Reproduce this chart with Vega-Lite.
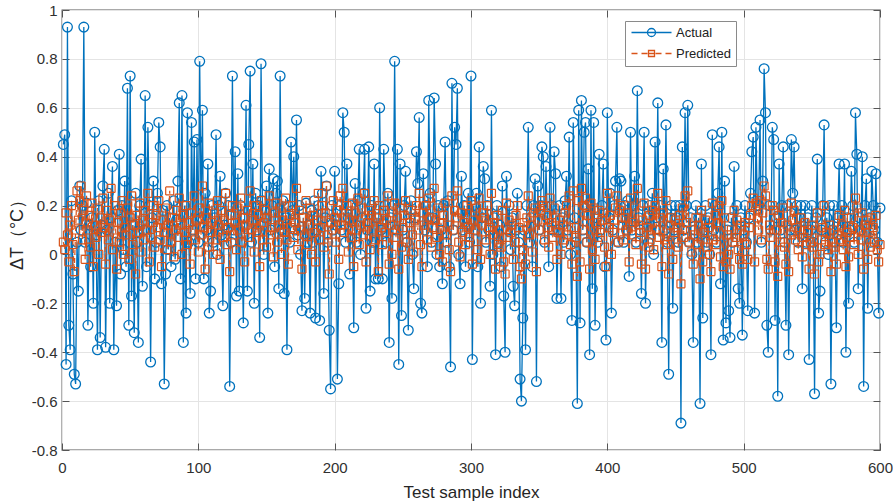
{
"$schema": "https://vega.github.io/schema/vega-lite/v6.json",
"width": 818, "height": 440,
"autosize": {"type": "none"},
"padding": {"left": 62, "top": 10, "right": 13, "bottom": 54},
"background": "white",
"config": {"view": {"stroke": "#555555", "strokeWidth": 1.3}, "font": "Liberation Sans, Arial, sans-serif"},
"data": {"values": [
{"i":1,"a":0.45,"p":0.05},{"i":2,"a":0.49,"p":0.02},{"i":3,"a":-0.45,"p":0.17},{"i":4,"a":0.93,"p":0.08},{"i":5,"a":-0.29,"p":-0.03},{"i":6,"a":-0.39,"p":0.12},{"i":7,"a":0.22,"p":0.2},{"i":8,"a":-0.08,"p":0.04},{"i":9,"a":-0.49,"p":-0.07},{"i":10,"a":-0.53,"p":0.1},
{"i":11,"a":0.05,"p":0.26},{"i":12,"a":-0.15,"p":0.14},{"i":13,"a":0.28,"p":0.22},{"i":14,"a":0.1,"p":0.28},{"i":15,"a":0.2,"p":0.06},{"i":16,"a":0.93,"p":0.18},{"i":17,"a":0.05,"p":-0.02},{"i":18,"a":0.21,"p":0.24},{"i":19,"a":-0.29,"p":0.1},{"i":20,"a":0.12,"p":0.16},
{"i":21,"a":-0.05,"p":0.03},{"i":22,"a":0.15,"p":0.21},{"i":23,"a":-0.2,"p":-0.05},{"i":24,"a":0.5,"p":0.12},{"i":25,"a":0.08,"p":0.07},{"i":26,"a":-0.39,"p":0.19},{"i":27,"a":0.22,"p":0.0},{"i":28,"a":-0.34,"p":0.15},{"i":29,"a":0.12,"p":0.09},{"i":30,"a":0.28,"p":0.23},
{"i":31,"a":0.43,"p":0.11},{"i":32,"a":-0.38,"p":-0.04},{"i":33,"a":0.1,"p":0.18},{"i":34,"a":0.25,"p":0.06},{"i":35,"a":-0.2,"p":0.14},{"i":36,"a":0.15,"p":0.27},{"i":37,"a":0.36,"p":0.02},{"i":38,"a":-0.39,"p":0.1},{"i":39,"a":0.05,"p":0.2},{"i":40,"a":-0.21,"p":-0.06},
{"i":41,"a":0.18,"p":0.13},{"i":42,"a":0.41,"p":0.05},{"i":43,"a":-0.08,"p":0.17},{"i":44,"a":0.2,"p":0.22},{"i":45,"a":0.02,"p":0.0},{"i":46,"a":0.3,"p":0.11},{"i":47,"a":-0.05,"p":0.08},{"i":48,"a":0.68,"p":0.19},{"i":49,"a":-0.29,"p":-0.02},{"i":50,"a":0.73,"p":0.15},
{"i":51,"a":-0.17,"p":0.24},{"i":52,"a":0.12,"p":0.04},{"i":53,"a":-0.32,"p":0.12},{"i":54,"a":0.25,"p":-0.08},{"i":55,"a":0.05,"p":0.16},{"i":56,"a":-0.36,"p":0.09},{"i":57,"a":0.2,"p":0.21},{"i":58,"a":0.39,"p":0.01},{"i":59,"a":-0.13,"p":0.14},{"i":60,"a":0.1,"p":0.06},
{"i":61,"a":0.65,"p":0.18},{"i":62,"a":-0.05,"p":0.1},{"i":63,"a":0.52,"p":0.25},{"i":64,"a":0.2,"p":-0.03},{"i":65,"a":-0.44,"p":0.07},{"i":66,"a":0.15,"p":0.13},{"i":67,"a":0.3,"p":0.2},{"i":68,"a":-0.1,"p":0.03},{"i":69,"a":0.05,"p":0.16},{"i":70,"a":0.25,"p":0.11},
{"i":71,"a":0.54,"p":0.22},{"i":72,"a":0.44,"p":0.06},{"i":73,"a":-0.12,"p":-0.05},{"i":74,"a":0.18,"p":0.14},{"i":75,"a":-0.53,"p":0.09},{"i":76,"a":-0.08,"p":0.19},{"i":77,"a":0.2,"p":0.02},{"i":78,"a":0.02,"p":0.12},{"i":79,"a":0.15,"p":0.26},{"i":80,"a":-0.05,"p":0.05},
{"i":81,"a":0.1,"p":0.15},{"i":82,"a":0.22,"p":-0.01},{"i":83,"a":-0.02,"p":0.1},{"i":84,"a":0.14,"p":0.18},{"i":85,"a":0.3,"p":0.07},{"i":86,"a":0.62,"p":0.23},{"i":87,"a":-0.1,"p":0.12},{"i":88,"a":0.65,"p":0.0},{"i":89,"a":-0.36,"p":0.16},{"i":90,"a":0.2,"p":0.09},
{"i":91,"a":-0.24,"p":0.2},{"i":92,"a":0.58,"p":0.04},{"i":93,"a":0.05,"p":0.13},{"i":94,"a":-0.16,"p":-0.04},{"i":95,"a":0.54,"p":0.17},{"i":96,"a":0.1,"p":0.1},{"i":97,"a":0.46,"p":0.24},{"i":98,"a":-0.1,"p":0.06},{"i":99,"a":0.47,"p":0.14},{"i":100,"a":0.05,"p":0.01},
{"i":101,"a":0.79,"p":0.19},{"i":102,"a":0.15,"p":0.08},{"i":103,"a":0.59,"p":0.28},{"i":104,"a":-0.1,"p":0.11},{"i":105,"a":0.25,"p":-0.06},{"i":106,"a":0.1,"p":0.15},{"i":107,"a":0.37,"p":0.03},{"i":108,"a":-0.24,"p":0.21},{"i":109,"a":-0.15,"p":0.09},{"i":110,"a":0.2,"p":0.13},
{"i":111,"a":0.05,"p":0.0},{"i":112,"a":0.15,"p":0.17},{"i":113,"a":0.49,"p":0.06},{"i":114,"a":0.0,"p":0.22},{"i":115,"a":0.2,"p":0.12},{"i":116,"a":0.32,"p":-0.02},{"i":117,"a":0.08,"p":0.18},{"i":118,"a":-0.21,"p":0.07},{"i":119,"a":0.12,"p":0.14},{"i":120,"a":0.25,"p":0.25},
{"i":121,"a":0.1,"p":0.04},{"i":122,"a":0.2,"p":0.11},{"i":123,"a":-0.54,"p":-0.07},{"i":124,"a":0.05,"p":0.16},{"i":125,"a":0.73,"p":0.2},{"i":126,"a":0.1,"p":0.08},{"i":127,"a":0.42,"p":0.13},{"i":128,"a":-0.17,"p":0.02},{"i":129,"a":0.33,"p":0.19},{"i":130,"a":-0.15,"p":0.1},
{"i":131,"a":0.2,"p":0.23},{"i":132,"a":0.05,"p":0.05},{"i":133,"a":-0.28,"p":0.15},{"i":134,"a":0.15,"p":-0.03},{"i":135,"a":0.61,"p":0.12},{"i":136,"a":-0.15,"p":0.18},{"i":137,"a":0.45,"p":0.07},{"i":138,"a":0.75,"p":0.26},{"i":139,"a":0.05,"p":0.1},{"i":140,"a":0.37,"p":0.14},
{"i":141,"a":-0.2,"p":0.01},{"i":142,"a":0.25,"p":0.2},{"i":143,"a":0.1,"p":0.09},{"i":144,"a":0.2,"p":0.16},{"i":145,"a":-0.34,"p":-0.05},{"i":146,"a":0.78,"p":0.22},{"i":147,"a":0.22,"p":0.06},{"i":148,"a":0.0,"p":0.13},{"i":149,"a":0.15,"p":0.18},{"i":150,"a":0.28,"p":0.03},
{"i":151,"a":-0.24,"p":0.15},{"i":152,"a":0.35,"p":0.24},{"i":153,"a":0.1,"p":0.08},{"i":154,"a":0.2,"p":0.11},{"i":155,"a":0.31,"p":-0.01},{"i":156,"a":-0.05,"p":0.17},{"i":157,"a":0.25,"p":0.21},{"i":158,"a":0.3,"p":0.05},{"i":159,"a":-0.14,"p":0.12},{"i":160,"a":0.73,"p":0.19},
{"i":161,"a":0.1,"p":0.0},{"i":162,"a":0.22,"p":0.14},{"i":163,"a":-0.16,"p":0.09},{"i":164,"a":0.15,"p":0.23},{"i":165,"a":-0.39,"p":0.06},{"i":166,"a":0.2,"p":-0.04},{"i":167,"a":0.05,"p":0.16},{"i":168,"a":0.46,"p":0.11},{"i":169,"a":0.18,"p":0.2},{"i":170,"a":0.4,"p":0.07},
{"i":171,"a":0.1,"p":0.13},{"i":172,"a":0.55,"p":0.27},{"i":173,"a":0.08,"p":0.02},{"i":174,"a":0.2,"p":0.18},{"i":175,"a":0.0,"p":0.1},{"i":176,"a":-0.23,"p":-0.06},{"i":177,"a":0.15,"p":0.15},{"i":178,"a":-0.18,"p":0.08},{"i":179,"a":0.21,"p":0.22},{"i":180,"a":0.05,"p":0.04},
{"i":181,"a":0.12,"p":0.12},{"i":182,"a":-0.24,"p":0.19},{"i":183,"a":0.18,"p":0.0},{"i":184,"a":0.05,"p":0.16},{"i":185,"a":0.22,"p":0.09},{"i":186,"a":-0.26,"p":-0.03},{"i":187,"a":0.1,"p":0.14},{"i":188,"a":0.2,"p":0.25},{"i":189,"a":-0.27,"p":0.06},{"i":190,"a":0.34,"p":0.11},
{"i":191,"a":0.25,"p":0.2},{"i":192,"a":-0.16,"p":0.03},{"i":193,"a":0.15,"p":0.17},{"i":194,"a":0.28,"p":0.28},{"i":195,"a":0.05,"p":0.08},{"i":196,"a":-0.31,"p":-0.08},{"i":197,"a":-0.55,"p":0.13},{"i":198,"a":0.2,"p":0.1},{"i":199,"a":0.1,"p":0.22},{"i":200,"a":0.34,"p":0.15},
{"i":201,"a":0.12,"p":0.05},{"i":202,"a":-0.51,"p":0.18},{"i":203,"a":-0.12,"p":-0.02},{"i":204,"a":0.2,"p":0.24},{"i":205,"a":0.1,"p":0.12},{"i":206,"a":0.58,"p":0.27},{"i":207,"a":0.5,"p":0.09},{"i":208,"a":0.05,"p":0.15},{"i":209,"a":0.37,"p":0.2},{"i":210,"a":0.15,"p":0.01},
{"i":211,"a":-0.08,"p":0.14},{"i":212,"a":0.2,"p":0.07},{"i":213,"a":0.1,"p":0.21},{"i":214,"a":-0.3,"p":-0.05},{"i":215,"a":0.29,"p":0.17},{"i":216,"a":0.05,"p":0.1},{"i":217,"a":0.22,"p":0.23},{"i":218,"a":0.43,"p":0.04},{"i":219,"a":0.0,"p":0.12},{"i":220,"a":0.15,"p":0.19},
{"i":221,"a":0.25,"p":0.08},{"i":222,"a":0.43,"p":0.25},{"i":223,"a":-0.22,"p":-0.03},{"i":224,"a":0.1,"p":0.13},{"i":225,"a":0.44,"p":0.18},{"i":226,"a":-0.15,"p":0.02},{"i":227,"a":0.2,"p":0.16},{"i":228,"a":0.05,"p":0.1},{"i":229,"a":0.37,"p":0.22},{"i":230,"a":-0.1,"p":0.06},
{"i":231,"a":0.15,"p":0.15},{"i":232,"a":-0.1,"p":-0.07},{"i":233,"a":0.6,"p":0.2},{"i":234,"a":0.1,"p":0.11},{"i":235,"a":-0.1,"p":0.04},{"i":236,"a":0.43,"p":0.18},{"i":237,"a":0.2,"p":0.09},{"i":238,"a":0.05,"p":0.14},{"i":239,"a":0.25,"p":0.24},{"i":240,"a":-0.36,"p":-0.04},
{"i":241,"a":0.15,"p":0.12},{"i":242,"a":-0.18,"p":0.0},{"i":243,"a":0.2,"p":0.17},{"i":244,"a":0.79,"p":0.21},{"i":245,"a":0.1,"p":0.07},{"i":246,"a":0.43,"p":0.15},{"i":247,"a":-0.45,"p":-0.06},{"i":248,"a":0.37,"p":0.19},{"i":249,"a":-0.25,"p":0.03},{"i":250,"a":0.1,"p":0.11},
{"i":251,"a":0.2,"p":0.16},{"i":252,"a":0.34,"p":0.22},{"i":253,"a":0.05,"p":0.05},{"i":254,"a":-0.31,"p":-0.02},{"i":255,"a":0.15,"p":0.13},{"i":256,"a":0.22,"p":0.18},{"i":257,"a":0.0,"p":0.08},{"i":258,"a":-0.14,"p":0.01},{"i":259,"a":0.15,"p":0.14},{"i":260,"a":0.42,"p":0.2},
{"i":261,"a":0.29,"p":0.1},{"i":262,"a":0.56,"p":0.25},{"i":263,"a":-0.2,"p":0.04},{"i":264,"a":-0.24,"p":-0.05},{"i":265,"a":0.33,"p":0.17},{"i":266,"a":0.1,"p":0.12},{"i":267,"a":0.2,"p":0.2},{"i":268,"a":-0.05,"p":0.06},{"i":269,"a":0.63,"p":0.23},{"i":270,"a":0.25,"p":0.15},
{"i":271,"a":0.05,"p":0.03},{"i":272,"a":0.15,"p":0.11},{"i":273,"a":0.64,"p":0.27},{"i":274,"a":0.37,"p":0.14},{"i":275,"a":0.0,"p":0.07},{"i":276,"a":0.2,"p":0.19},{"i":277,"a":-0.05,"p":0.0},{"i":278,"a":0.1,"p":0.13},{"i":279,"a":-0.12,"p":-0.03},{"i":280,"a":0.2,"p":0.16},
{"i":281,"a":0.46,"p":0.21},{"i":282,"a":0.05,"p":0.08},{"i":283,"a":0.22,"p":0.12},{"i":284,"a":-0.05,"p":0.02},{"i":285,"a":-0.46,"p":-0.07},{"i":286,"a":0.7,"p":0.24},{"i":287,"a":0.1,"p":0.1},{"i":288,"a":0.52,"p":0.18},{"i":289,"a":0.45,"p":0.15},{"i":290,"a":0.68,"p":0.26},
{"i":291,"a":0.0,"p":0.05},{"i":292,"a":-0.12,"p":-0.01},{"i":293,"a":0.32,"p":0.17},{"i":294,"a":0.1,"p":0.09},{"i":295,"a":0.2,"p":0.13},{"i":296,"a":-0.05,"p":0.04},{"i":297,"a":0.15,"p":0.2},{"i":298,"a":0.25,"p":0.11},{"i":299,"a":0.05,"p":0.07},{"i":300,"a":0.73,"p":0.22},
{"i":301,"a":-0.43,"p":-0.04},{"i":302,"a":0.2,"p":0.14},{"i":303,"a":0.1,"p":0.1},{"i":304,"a":0.25,"p":0.19},{"i":305,"a":-0.05,"p":0.02},{"i":306,"a":0.44,"p":0.23},{"i":307,"a":-0.2,"p":-0.02},{"i":308,"a":0.15,"p":0.12},{"i":309,"a":0.36,"p":0.17},{"i":310,"a":0.31,"p":0.15},
{"i":311,"a":0.05,"p":0.06},{"i":312,"a":0.2,"p":0.2},{"i":313,"a":0.1,"p":0.11},{"i":314,"a":-0.13,"p":0.0},{"i":315,"a":0.59,"p":0.25},{"i":316,"a":0.0,"p":0.08},{"i":317,"a":0.15,"p":0.13},{"i":318,"a":-0.41,"p":-0.06},{"i":319,"a":0.2,"p":0.16},{"i":320,"a":0.05,"p":0.04},
{"i":321,"a":0.12,"p":0.1},{"i":322,"a":-0.05,"p":0.03},{"i":323,"a":0.28,"p":0.18},{"i":324,"a":-0.17,"p":-0.03},{"i":325,"a":-0.4,"p":-0.08},{"i":326,"a":0.32,"p":0.21},{"i":327,"a":0.1,"p":0.07},{"i":328,"a":0.2,"p":0.14},{"i":329,"a":0.02,"p":0.09},{"i":330,"a":0.15,"p":0.12},
{"i":331,"a":-0.13,"p":-0.02},{"i":332,"a":-0.21,"p":0.05},{"i":333,"a":0.1,"p":0.16},{"i":334,"a":0.25,"p":0.2},{"i":335,"a":0.05,"p":0.11},{"i":336,"a":-0.51,"p":-0.05},{"i":337,"a":-0.6,"p":-0.1},{"i":338,"a":-0.26,"p":0.02},{"i":339,"a":0.1,"p":0.13},{"i":340,"a":-0.39,"p":-0.04},
{"i":341,"a":0.2,"p":0.15},{"i":342,"a":0.52,"p":0.24},{"i":343,"a":0.05,"p":0.08},{"i":344,"a":0.15,"p":0.12},{"i":345,"a":-0.05,"p":0.01},{"i":346,"a":0.2,"p":0.17},{"i":347,"a":0.31,"p":0.19},{"i":348,"a":-0.52,"p":-0.07},{"i":349,"a":0.28,"p":0.14},{"i":350,"a":0.1,"p":0.1},
{"i":351,"a":0.2,"p":0.18},{"i":352,"a":0.44,"p":0.22},{"i":353,"a":0.4,"p":0.2},{"i":354,"a":0.05,"p":0.06},{"i":355,"a":0.36,"p":0.16},{"i":356,"a":0.15,"p":0.11},{"i":357,"a":-0.05,"p":0.03},{"i":358,"a":0.52,"p":0.23},{"i":359,"a":0.2,"p":0.13},{"i":360,"a":0.1,"p":0.07},
{"i":361,"a":0.42,"p":0.19},{"i":362,"a":0.33,"p":0.15},{"i":363,"a":-0.18,"p":-0.02},{"i":364,"a":0.1,"p":0.09},{"i":365,"a":0.2,"p":0.14},{"i":366,"a":-0.18,"p":0.0},{"i":367,"a":0.15,"p":0.12},{"i":368,"a":0.05,"p":0.06},{"i":369,"a":0.22,"p":0.17},{"i":370,"a":0.32,"p":0.2},
{"i":371,"a":0.1,"p":0.08},{"i":372,"a":0.48,"p":0.24},{"i":373,"a":0.0,"p":0.04},{"i":374,"a":-0.27,"p":-0.04},{"i":375,"a":0.54,"p":0.26},{"i":376,"a":0.15,"p":0.11},{"i":377,"a":0.05,"p":0.07},{"i":378,"a":-0.61,"p":-0.09},{"i":379,"a":0.59,"p":0.22},{"i":380,"a":-0.28,"p":-0.03},
{"i":381,"a":0.63,"p":0.27},{"i":382,"a":0.1,"p":0.1},{"i":383,"a":0.5,"p":0.2},{"i":384,"a":0.54,"p":0.23},{"i":385,"a":0.05,"p":0.05},{"i":386,"a":0.35,"p":0.16},{"i":387,"a":-0.41,"p":-0.06},{"i":388,"a":0.59,"p":0.21},{"i":389,"a":-0.14,"p":0.02},{"i":390,"a":0.54,"p":0.19},
{"i":391,"a":-0.29,"p":-0.02},{"i":392,"a":0.15,"p":0.13},{"i":393,"a":0.05,"p":0.07},{"i":394,"a":0.41,"p":0.18},{"i":395,"a":0.1,"p":0.09},{"i":396,"a":0.2,"p":0.14},{"i":397,"a":0.37,"p":0.17},{"i":398,"a":-0.05,"p":0.03},{"i":399,"a":-0.35,"p":-0.05},{"i":400,"a":0.58,"p":0.25},
{"i":401,"a":0.15,"p":0.11},{"i":402,"a":0.25,"p":0.16},{"i":403,"a":-0.24,"p":0.0},{"i":404,"a":0.1,"p":0.09},{"i":405,"a":0.2,"p":0.14},{"i":406,"a":0.3,"p":0.19},{"i":407,"a":0.52,"p":0.24},{"i":408,"a":0.05,"p":0.05},{"i":409,"a":0.31,"p":0.18},{"i":410,"a":0.3,"p":0.2},
{"i":411,"a":0.15,"p":0.12},{"i":412,"a":0.05,"p":0.06},{"i":413,"a":0.2,"p":0.15},{"i":414,"a":0.1,"p":0.1},{"i":415,"a":0.22,"p":0.17},{"i":416,"a":-0.09,"p":-0.03},{"i":417,"a":0.5,"p":0.23},{"i":418,"a":0.1,"p":0.08},{"i":419,"a":0.2,"p":0.13},{"i":420,"a":0.32,"p":0.19},
{"i":421,"a":0.05,"p":0.04},{"i":422,"a":0.67,"p":0.27},{"i":423,"a":0.15,"p":0.12},{"i":424,"a":0.1,"p":0.09},{"i":425,"a":-0.16,"p":-0.04},{"i":426,"a":0.2,"p":0.14},{"i":427,"a":0.5,"p":0.21},{"i":428,"a":-0.2,"p":-0.06},{"i":429,"a":0.15,"p":0.11},{"i":430,"a":0.05,"p":0.03},
{"i":431,"a":0.2,"p":0.16},{"i":432,"a":0.1,"p":0.08},{"i":433,"a":0.25,"p":0.18},{"i":434,"a":0.0,"p":0.02},{"i":435,"a":0.46,"p":0.2},{"i":436,"a":0.15,"p":0.1},{"i":437,"a":0.62,"p":0.25},{"i":438,"a":0.1,"p":0.07},{"i":439,"a":0.2,"p":0.15},{"i":440,"a":-0.36,"p":-0.05},
{"i":441,"a":0.35,"p":0.17},{"i":442,"a":0.1,"p":0.06},{"i":443,"a":0.53,"p":0.22},{"i":444,"a":0.05,"p":0.04},{"i":445,"a":-0.49,"p":-0.08},{"i":446,"a":0.15,"p":0.12},{"i":447,"a":0.2,"p":0.15},{"i":448,"a":-0.22,"p":-0.02},{"i":449,"a":0.1,"p":0.09},{"i":450,"a":0.2,"p":0.14},
{"i":451,"a":0.15,"p":0.11},{"i":452,"a":0.05,"p":0.03},{"i":453,"a":0.2,"p":0.16},{"i":454,"a":-0.69,"p":-0.12},{"i":455,"a":0.44,"p":0.19},{"i":456,"a":0.1,"p":0.07},{"i":457,"a":0.58,"p":0.24},{"i":458,"a":0.2,"p":0.13},{"i":459,"a":0.61,"p":0.26},{"i":460,"a":0.05,"p":0.05},
{"i":461,"a":0.15,"p":0.1},{"i":462,"a":0.0,"p":0.01},{"i":463,"a":-0.36,"p":-0.04},{"i":464,"a":0.1,"p":0.08},{"i":465,"a":0.2,"p":0.15},{"i":466,"a":0.05,"p":0.04},{"i":467,"a":0.15,"p":0.12},{"i":468,"a":-0.61,"p":-0.1},{"i":469,"a":0.37,"p":0.18},{"i":470,"a":-0.26,"p":-0.03},
{"i":471,"a":0.1,"p":0.09},{"i":472,"a":0.2,"p":0.14},{"i":473,"a":0.05,"p":0.03},{"i":474,"a":0.15,"p":0.11},{"i":475,"a":0.0,"p":0.0},{"i":476,"a":-0.41,"p":-0.07},{"i":477,"a":0.49,"p":0.21},{"i":478,"a":0.1,"p":0.06},{"i":479,"a":0.2,"p":0.16},{"i":480,"a":0.05,"p":0.04},
{"i":481,"a":0.25,"p":0.13},{"i":482,"a":0.44,"p":0.2},{"i":483,"a":-0.12,"p":-0.01},{"i":484,"a":0.5,"p":0.22},{"i":485,"a":-0.35,"p":-0.05},{"i":486,"a":0.3,"p":0.15},{"i":487,"a":-0.28,"p":-0.03},{"i":488,"a":0.1,"p":0.08},{"i":489,"a":-0.23,"p":0.0},{"i":490,"a":-0.34,"p":-0.06},
{"i":491,"a":0.15,"p":0.1},{"i":492,"a":0.05,"p":0.05},{"i":493,"a":0.36,"p":0.18},{"i":494,"a":0.1,"p":0.07},{"i":495,"a":0.2,"p":0.14},{"i":496,"a":-0.14,"p":0.02},{"i":497,"a":-0.2,"p":-0.02},{"i":498,"a":0.15,"p":0.12},{"i":499,"a":-0.33,"p":-0.04},{"i":500,"a":0.1,"p":0.08},
{"i":501,"a":0.2,"p":0.13},{"i":502,"a":0.05,"p":0.04},{"i":503,"a":-0.23,"p":-0.02},{"i":504,"a":0.15,"p":0.11},{"i":505,"a":0.25,"p":0.16},{"i":506,"a":0.42,"p":0.2},{"i":507,"a":0.48,"p":0.23},{"i":508,"a":-0.24,"p":-0.03},{"i":509,"a":0.52,"p":0.21},{"i":510,"a":0.2,"p":0.15},
{"i":511,"a":0.2,"p":0.1},{"i":512,"a":0.55,"p":0.22},{"i":513,"a":0.05,"p":0.06},{"i":514,"a":0.3,"p":0.17},{"i":515,"a":0.76,"p":0.28},{"i":516,"a":0.58,"p":0.24},{"i":517,"a":-0.29,"p":-0.02},{"i":518,"a":-0.4,"p":-0.06},{"i":519,"a":0.2,"p":0.12},{"i":520,"a":0.1,"p":0.07},
{"i":521,"a":0.52,"p":0.2},{"i":522,"a":0.47,"p":0.18},{"i":523,"a":-0.27,"p":-0.03},{"i":524,"a":0.15,"p":0.1},{"i":525,"a":-0.58,"p":-0.09},{"i":526,"a":0.37,"p":0.16},{"i":527,"a":0.1,"p":0.05},{"i":528,"a":0.2,"p":0.13},{"i":529,"a":0.44,"p":0.19},{"i":530,"a":0.05,"p":0.03},
{"i":531,"a":-0.29,"p":-0.04},{"i":532,"a":0.2,"p":0.12},{"i":533,"a":-0.41,"p":-0.07},{"i":534,"a":0.1,"p":0.08},{"i":535,"a":0.47,"p":0.21},{"i":536,"a":0.25,"p":0.14},{"i":537,"a":0.44,"p":0.18},{"i":538,"a":0.1,"p":0.06},{"i":539,"a":0.2,"p":0.11},{"i":540,"a":0.05,"p":0.02},
{"i":541,"a":0.15,"p":0.1},{"i":542,"a":0.2,"p":0.15},{"i":543,"a":-0.14,"p":-0.01},{"i":544,"a":0.1,"p":0.07},{"i":545,"a":0.2,"p":0.13},{"i":546,"a":0.05,"p":0.04},{"i":547,"a":0.15,"p":0.09},{"i":548,"a":-0.43,"p":-0.06},{"i":549,"a":0.1,"p":0.05},{"i":550,"a":0.2,"p":0.12},
{"i":551,"a":0.05,"p":0.03},{"i":552,"a":-0.57,"p":-0.08},{"i":553,"a":0.15,"p":0.1},{"i":554,"a":0.39,"p":0.17},{"i":555,"a":-0.24,"p":-0.03},{"i":556,"a":-0.15,"p":0.0},{"i":557,"a":0.1,"p":0.06},{"i":558,"a":0.2,"p":0.11},{"i":559,"a":0.53,"p":0.2},{"i":560,"a":0.05,"p":0.04},
{"i":561,"a":0.15,"p":0.09},{"i":562,"a":0.0,"p":0.02},{"i":563,"a":0.2,"p":0.12},{"i":564,"a":-0.53,"p":-0.07},{"i":565,"a":0.1,"p":0.05},{"i":566,"a":0.2,"p":0.1},{"i":567,"a":0.05,"p":0.03},{"i":568,"a":-0.3,"p":-0.04},{"i":569,"a":0.15,"p":0.08},{"i":570,"a":0.37,"p":0.16},
{"i":571,"a":0.1,"p":0.06},{"i":572,"a":0.2,"p":0.12},{"i":573,"a":0.05,"p":0.02},{"i":574,"a":0.37,"p":0.18},{"i":575,"a":-0.4,"p":-0.05},{"i":576,"a":0.15,"p":0.09},{"i":577,"a":-0.2,"p":-0.01},{"i":578,"a":0.1,"p":0.07},{"i":579,"a":0.34,"p":0.15},{"i":580,"a":0.2,"p":0.11},
{"i":581,"a":0.05,"p":0.04},{"i":582,"a":0.58,"p":0.23},{"i":583,"a":0.41,"p":0.19},{"i":584,"a":-0.14,"p":0.0},{"i":585,"a":0.15,"p":0.1},{"i":586,"a":0.1,"p":0.06},{"i":587,"a":0.4,"p":0.17},{"i":588,"a":-0.54,"p":-0.06},{"i":589,"a":0.2,"p":0.12},{"i":590,"a":0.31,"p":0.14},
{"i":591,"a":-0.22,"p":-0.02},{"i":592,"a":0.15,"p":0.09},{"i":593,"a":0.05,"p":0.03},{"i":594,"a":0.34,"p":0.15},{"i":595,"a":0.2,"p":0.11},{"i":596,"a":0.1,"p":0.05},{"i":597,"a":0.33,"p":0.16},{"i":598,"a":0.05,"p":0.02},{"i":599,"a":-0.24,"p":-0.03},{"i":600,"a":0.19,"p":0.04}
]},
"layer": [
{
"mark": {"type": "line", "strokeWidth": 1.3, "point": {"shape": "circle", "filled": false, "size": 95, "strokeWidth": 1.3}},
"encoding": {
"x": {"field": "i", "type": "quantitative", "scale": {"domain": [0, 600], "nice": false},
"axis": {"title": "Test sample index", "values": [0,100,200,300,400,500,600], "labelFlush": false, "grid": true, "gridColor": "#e4e4e4", "gridWidth": 1, "domain": false, "tickSize": -7, "tickColor": "#555555", "tickWidth": 1, "labelPadding": 17, "labelFontSize": 15, "labelColor": "#303030", "titleFontSize": 17, "titleFontWeight": "normal", "titleColor": "#262626", "titlePadding": 9}},
"y": {"field": "a", "type": "quantitative", "scale": {"domain": [-0.8, 1], "nice": false},
"axis": {"title": "ΔT（°C）", "values": [-0.8,-0.6,-0.4,-0.2,0,0.2,0.4,0.6,0.8,1], "labelExpr": "'' + datum.value", "grid": true, "gridColor": "#e4e4e4", "gridWidth": 1, "domain": false, "tickSize": -7, "tickColor": "#555555", "tickWidth": 1, "labelPadding": 12, "labelFontSize": 15, "labelColor": "#303030", "titleFontSize": 18, "titleFontWeight": "normal", "titleColor": "#262626", "titlePadding": 5}},
"color": {"datum": "Actual", "type": "nominal", "scale": {"domain": ["Actual", "Predicted"], "range": ["#0072BD", "#D95319"]},
"legend": {"orient": "none", "legendX": 563, "legendY": 11, "title": null, "direction": "vertical", "padding": 5, "strokeColor": "#8a8a8a", "fillColor": "white", "labelFontSize": 13, "labelColor": "#222222", "labelOffset": 33, "symbolSize": 100, "rowPadding": 7, "symbolStrokeWidth": 1.3,
"encode": {"symbols": {"update": {"shape": [{"test": "datum.value === 'Actual'", "value": "M-1,0H7M3.8,0A0.8,0.8,0,1,1,2.2,0A0.8,0.8,0,1,1,3.8,0"}, {"value": "M-1,0H0.2M1,0H2.2M2.4,-0.6H3.6V0.6H2.4ZM2.4,0H3.6M3.8,0H5M5.8,0H7"}], "fill": {"value": "transparent"}, "strokeWidth": {"value": 1.3}}}}}}
}
},
{
"mark": {"type": "line", "strokeWidth": 1.2, "strokeDash": [5, 3], "point": {"shape": "square", "filled": false, "size": 64, "strokeWidth": 1.2, "strokeDash": [1, 0]}},
"encoding": {
"x": {"field": "i", "type": "quantitative", "axis": {"orient": "top", "values": [0,100,200,300,400,500,600], "labels": false, "title": null, "grid": false, "domain": false, "tickSize": -7, "tickColor": "#555555"}},
"y": {"field": "p", "type": "quantitative", "axis": {"orient": "right", "values": [-0.8,-0.6,-0.4,-0.2,0,0.2,0.4,0.6,0.8,1], "labels": false, "title": null, "grid": false, "domain": false, "tickSize": -7, "tickColor": "#555555"}},
"color": {"datum": "Predicted", "type": "nominal", "scale": {"domain": ["Actual", "Predicted"], "range": ["#0072BD", "#D95319"]}}
}
}
],
"resolve": {"axis": {"x": "independent", "y": "independent"}}
}
